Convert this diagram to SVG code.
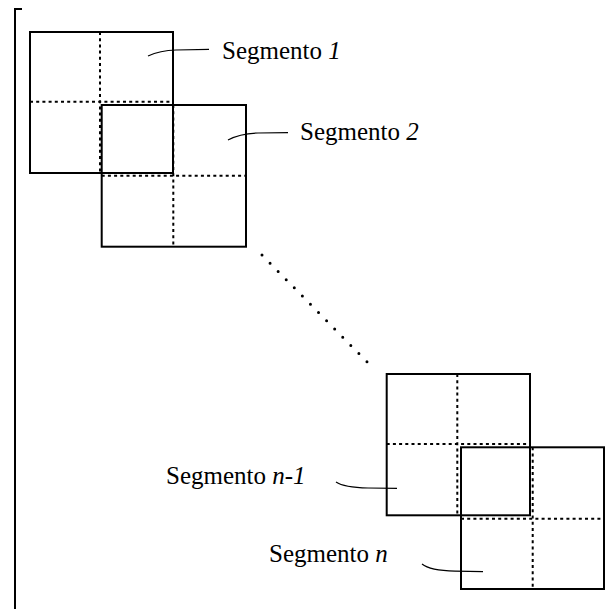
<svg xmlns="http://www.w3.org/2000/svg" width="608" height="609" viewBox="0 0 608 609">
  <style>
    .frame { fill: none; stroke: #000; stroke-width: 2; }
    .grid { fill: none; stroke: #000; stroke-width: 2; stroke-dasharray: 3 3.2; }
    .lead { fill: none; stroke: #000; stroke-width: 1.2; }
    .gap { fill: none; stroke: #000; stroke-width: 3; stroke-linecap: round; stroke-dasharray: 0 11.52; }
    .label { font-family: "Liberation Serif", "Times New Roman", serif; font-size: 25px; fill: #000; }
    .it { font-style: italic; }
  </style>
  <rect width="608" height="609" fill="#fff"/>

  <!-- left bracket -->
  <path class="frame" d="M22,9 H15 V609"/>

  <!-- segment 1 -->
  <g id="seg1">
    <rect class="frame" x="30" y="32" width="143" height="141"/>
    <path class="grid" d="M100,32 V173 M30,101.7 H173"/>
  </g>

  <!-- segment 2 -->
  <g id="seg2">
    <rect class="frame" x="101.7" y="105" width="144.3" height="141.7"/>
    <path class="grid" d="M173.3,105 V246.7 M101.7,175.7 H246"/>
  </g>

  <!-- segment n-1 -->
  <g id="segn1">
    <rect class="frame" x="386.7" y="374" width="143.3" height="141.3"/>
    <path class="grid" d="M457.3,374 V515.3 M386.7,444 H530"/>
  </g>

  <!-- segment n -->
  <g id="segn">
    <rect class="frame" x="461" y="447.3" width="143" height="141.7"/>
    <path class="grid" d="M532.7,447.3 V589 M461,518.7 H604"/>
  </g>

  <!-- connectors: leaders and the ellipsis between segments -->
  <g id="connectors">
    <path class="lead" d="M148,56 Q160,50.5 176,50 L209,49.3"/>
    <path class="lead" d="M228,140 Q240,133.5 258,133 L288,132.6"/>
    <path class="lead" d="M336,482 Q344,487.5 368,488 L397,488.4"/>
    <path class="lead" d="M422,564 Q430,570.5 455,571.2 L483,571.6"/>
    <path class="gap" d="M262,255 L375,370"/>
  </g>

  <!-- labels -->
  <g id="labels">
    <text class="label" x="222" y="59">Segmento <tspan class="it">1</tspan></text>
    <text class="label" x="300" y="140">Segmento <tspan class="it">2</tspan></text>
    <text class="label" x="166" y="484">Segmento <tspan class="it">n-1</tspan></text>
    <text class="label" x="269" y="562">Segmento <tspan class="it">n</tspan></text>
  </g>
</svg>
